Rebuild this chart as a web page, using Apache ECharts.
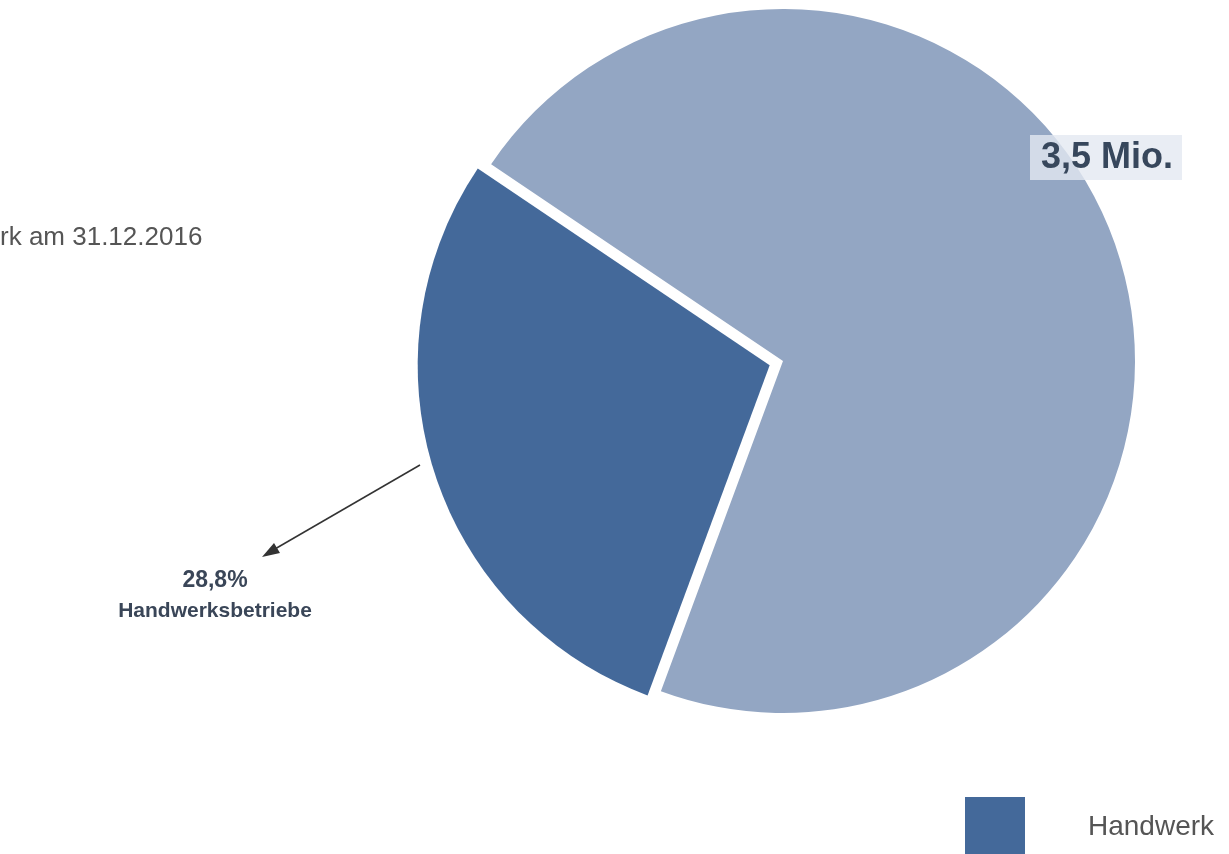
<!DOCTYPE html>
<html><head><meta charset="utf-8">
<script src="https://cdn.jsdelivr.net/npm/echarts@6/dist/echarts.min.js"></script>
<style>html,body{margin:0;padding:0;background:#fff}#c{width:1229px;height:854px}</style>
</head><body><div id="c"></div>
<script>
const categories = ['Handwerk', 'Übrige Betriebe'];
const shares = [28.8, 71.2];
const colors = ['#44699a', '#93a6c3'];
const titleText = 'rk am 31.12.2016';
const valueLabel = '3,5 Mio.';
const shareLabel = '28,8%';
const shareName = 'Handwerksbetriebe';

const chart = echarts.init(document.getElementById('c'));
const font = 'Liberation Sans, Arial, sans-serif';
chart.setOption({
  animation: false,
  textStyle: { fontFamily: font },
  legend: {
    data: [categories[0]],
    left: 965, top: 797, padding: 0,
    itemWidth: 60, itemHeight: 60, icon: 'rect',
    textStyle: { fontSize: 28, color: '#555', padding: [26, 0, 0, 58], fontFamily: font },
    selectedMode: false
  },
  series: [{
    type: 'pie',
    center: [783, 361],
    radius: [0, 352],
    startAngle: 249.7,
    clockwise: true,
    label: { show: false },
    labelLine: { show: false },
    selectedMode: 'single',
    selectedOffset: 14,
    emphasis: { disabled: true },
    data: categories.map((n, i) => ({
      name: n, value: shares[i], selected: i === 0,
      itemStyle: { color: colors[i] }
    }))
  }],
  graphic: [
    { type: 'text', z: 100, left: 0, top: 225, style: { text: titleText, fontSize: 26, fill: '#555', fontFamily: font } },
    { type: 'rect', z: 100, shape: { x: 1030, y: 135, width: 152, height: 45 }, style: { fill: 'rgba(228,233,241,0.8)' } },
    { type: 'text', z: 101, x: 1107, y: 158, style: { text: valueLabel, fontSize: 36, fontWeight: 'bold', fill: '#37475c', align: 'center', verticalAlign: 'middle', fontFamily: font } },
    { type: 'text', z: 100, x: 215, y: 581, style: { text: shareLabel, fontSize: 23, fontWeight: 'bold', fill: '#3a4658', align: 'center', verticalAlign: 'middle', fontFamily: font } },
    { type: 'text', z: 100, x: 215, y: 611, style: { text: shareName, fontSize: 21, fontWeight: 'bold', fill: '#3a4658', align: 'center', verticalAlign: 'middle', fontFamily: font } },
    { type: 'line', z: 100, shape: { x1: 420, y1: 465, x2: 268, y2: 553 }, style: { stroke: '#333', lineWidth: 1.5 } },
    { type: 'polygon', z: 100, shape: { points: [[262, 557], [280, 553], [274, 543]] }, style: { fill: '#333' } }
  ]
});
</script></body></html>
